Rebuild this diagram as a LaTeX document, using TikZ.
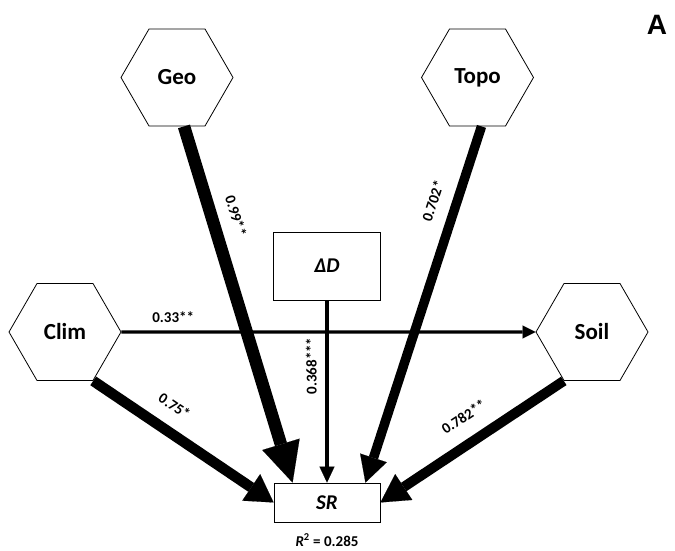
\documentclass[tikz,border=0pt]{standalone}
\usepackage{fontspec}
\setmainfont{Carlito}
\newfontfamily\panelfont{Liberation Sans}
\usetikzlibrary{shapes.geometric}
\usetikzlibrary{arrows.meta}
\usetikzlibrary{calc}
\tikzset{hexa/.style={regular polygon, regular polygon sides=6, minimum size=112pt, inner sep=0pt, draw, line width=0.8pt, font=\fontsize{23}{26}\selectfont\bfseries},
obs/.style={rectangle, draw, line width=0.8pt, font=\fontsize{21}{24}\selectfont\bfseries\itshape},
coef/.style={font=\fontsize{15}{17}\selectfont\bfseries, inner sep=2pt},
eff/.style n args={3}{line width=#1pt, -{Triangle[length=#2pt, width=#3pt, line width=0.1pt]}}}

\begin{document}
\begin{tikzpicture}[x=1pt, y=1pt]
\useasboundingbox (0,0) rectangle (675,550);
\foreach \n/\t/\x/\y in {geo/Geo/177/472.5, topo/Topo/477.5/472.5, clim/Clim/65/218, soil/Soil/592/218} {
\node (\n) at (\x,\y) [hexa] {\t};
}
\node (dd) at (327,284) [obs, minimum width=107pt, minimum height=68pt] {ΔD};
\node (sr) at (327,47.5) [obs, minimum width=106pt, minimum height=39pt] {SR};
\node (rsq) [below of=sr, node distance=37.5pt, font=\fontsize{15}{17}\selectfont\bfseries] {\textit{R}\textsuperscript{2} = 0.285};
\node (panel) at (657,525) [font=\panelfont\fontsize{28}{30}\selectfont\bfseries] {A};

% paths into SR
\draw[eff={12.5}{40}{39}] ($(geo.south)+(7,0)$) -- node[coef, sloped, pos=0.27, above=10pt] {0.99**} ($(sr.north west)+(19,0)$);
\draw[eff={9.5}{26}{28}] ($(topo.south)+(4,0)$) -- node[coef, sloped, pos=0.23, above=11pt] {0.702*} ($(sr.north east)+(-15,0)$);
\draw[eff={10.5}{27}{32}] (clim.-60) -- node[coef, sloped, pos=0.375, above=12pt] {0.75*} (sr.west);
\draw[eff={10}{28}{31}] (soil.-120) -- node[coef, sloped, pos=0.47, above=13pt] {0.782**} (sr.east);
\draw[eff={4.3}{16}{15}] (dd) -- node[coef, pos=0.36, rotate=90, above=6pt] {0.368***} (sr);
\draw[eff={3.3}{13}{13}] (clim) -- node[coef, pos=0.125, above=6pt] {0.33**} (soil);
\end{tikzpicture}
\end{document}
